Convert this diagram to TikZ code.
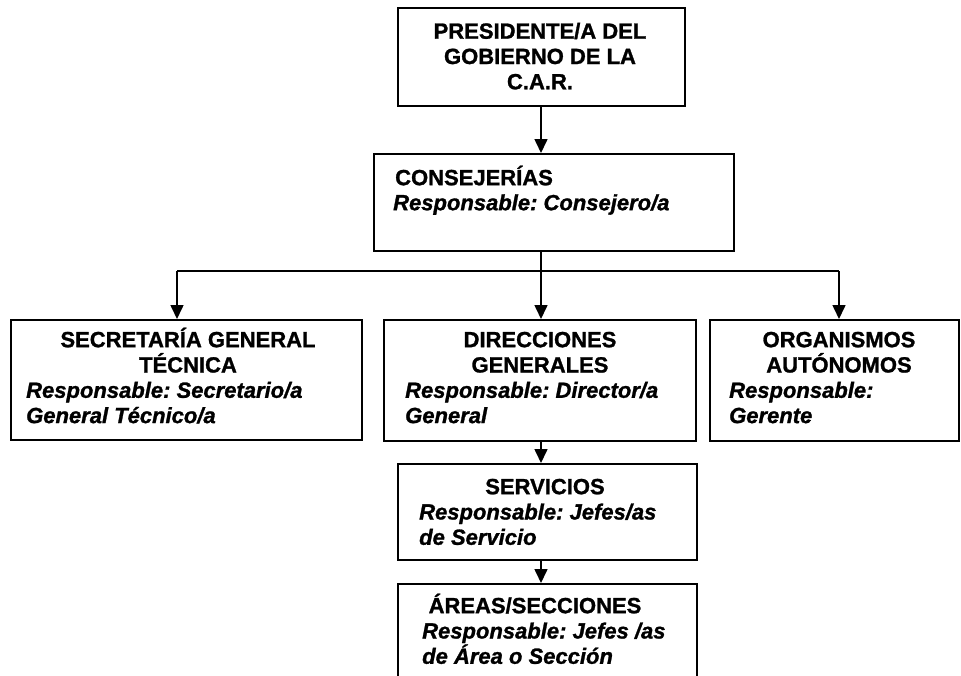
\documentclass[tikz,border=0pt]{standalone}
\usepackage{fontspec}
\setmainfont{Liberation Sans}[BoldFeatures={FakeBold=1.2},BoldItalicFeatures={FakeBold=1.2}]
\usetikzlibrary{arrows.meta}
\frenchspacing
\newcommand{\capstrut}{\rule{0pt}{22pt}}
\tikzset{
  box/.style={draw,line width=1.6pt,inner sep=0pt,anchor=north west},
  title/.style={font=\bfseries\fontsize{22}{25.3}\selectfont,align=center,anchor=north,inner sep=0pt},
  resp/.style={font=\bfseries\itshape\fontsize{22}{25.3}\selectfont,align=left,anchor=north west,inner sep=0pt},
  link/.style={line width=1.6pt,-{Triangle[length=14pt,width=13pt]}},
  plain/.style={line width=1.6pt},
}
\begin{document}
\begin{tikzpicture}[x=1pt,y=-1pt]
    \path[use as bounding box,clip] (0,0) rectangle (961,675);
    %% Blocks
    \node[box,minimum width=287pt,minimum height=98pt] (presidente) at (397,7) {};
    \node[box,minimum width=360pt,minimum height=97pt] (consejerias) at (373,153) {};
    \node[box,minimum width=351pt,minimum height=120pt] (secretaria) at (10,319) {};
    \node[box,minimum width=312pt,minimum height=121pt] (direcciones) at (383,319) {};
    \node[box,minimum width=249pt,minimum height=121pt] (organismos) at (709,319) {};
    \node[box,minimum width=299pt,minimum height=96pt] (servicios) at (397,463) {};
    \node[box,minimum width=299pt,minimum height=120pt] (areas) at (397,583) {};
    %% labels
    \node[title] (presidente-t) at (540,16.5) {\capstrut PRESIDENTE/A DEL\\GOBIERNO DE LA\\C.A.R.};
    \node[title,anchor=north west] (consejerias-t) at (395,163) {\capstrut CONSEJERÍAS};
    \node[resp] (consejerias-r) at (393,188) {\capstrut Responsable: Consejero/a};
    \node[title] (secretaria-t) at (188,325) {\capstrut SECRETARÍA GENERAL\\TÉCNICA};
    \node[resp] (secretaria-r) at (26,375.6) {\capstrut Responsable: Secretario/a\\General Técnico/a};
    \node[title] (direcciones-t) at (540,325) {\capstrut DIRECCIONES\\GENERALES};
    \node[resp] (direcciones-r) at (405,375.6) {\capstrut Responsable: Director/a\\General};
    \node[title] (organismos-t) at (839,325) {\capstrut ORGANISMOS\\AUTÓNOMOS};
    \node[resp] (organismos-r) at (729,375.6) {\capstrut Responsable:\\Gerente};
    \node[title] (servicios-t) at (545,472) {\capstrut SERVICIOS};
    \node[resp] (servicios-r) at (419,497.3) {\capstrut Responsable: Jefes/as\\de Servicio};
    \node[title] (areas-t) at (535,591) {\capstrut ÁREAS/SECCIONES};
    \node[resp] (areas-r) at (422,616.3) {\capstrut Responsable: Jefes /as\\de Área o Sección};
    %% connectors
    \coordinate (fork) at (541,271);
    \coordinate (forkL) at (177,271);
    \coordinate (forkR) at (839,271);
    \draw[link] (presidente.south -| fork) -- (consejerias.north -| fork);
    \draw[plain] (consejerias.south -| fork) -- (fork);
    \draw[plain] (forkL) -- (forkR);
    \draw[link] (forkL) -- (forkL |- secretaria.north);
    \draw[link] (fork) -- (fork |- direcciones.north);
    \draw[link] (forkR) -- (forkR |- organismos.north);
    \draw[link] (direcciones.south -| fork) -- (servicios.north -| fork);
    \draw[link] (servicios.south -| fork) -- (areas.north -| fork);
\end{tikzpicture}
\end{document}
